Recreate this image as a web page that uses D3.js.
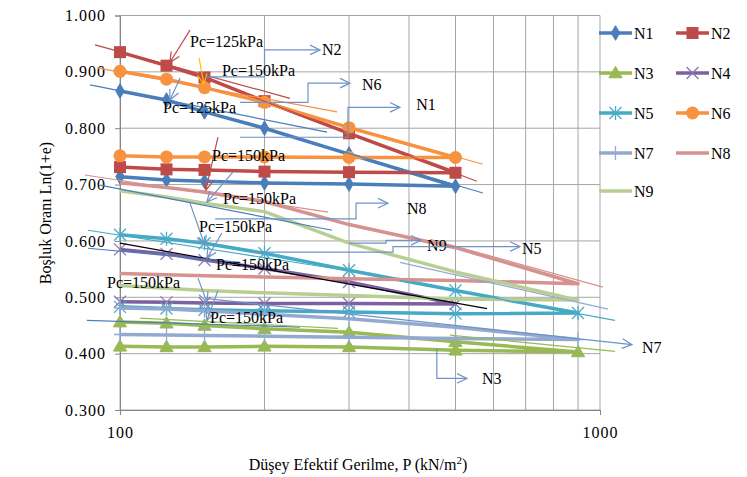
<!DOCTYPE html>
<html><head><meta charset="utf-8">
<script src="https://cdn.jsdelivr.net/npm/d3@7"></script>
<style>
body{margin:0;background:#fff}
svg{display:block}
text{font-family:"Liberation Serif","Times New Roman",serif;fill:#000}
</style>
</head><body>
<svg id="c" width="747" height="477"></svg>
<script>
// ---------- DATA ----------
const stressA = [100,125,150,200,300,500,300,200,150,125,100];
const stressB = [100,125,150,200,300,500,900,500,300,200,150,125,100];
const seriesNames = ["N1","N2","N3","N4","N5","N6","N7","N8","N9"];
const eN1 = [0.866,0.850,0.829,0.800,0.754,0.697,0.701,0.703,0.706,0.708,0.714];
const eN2 = [0.935,0.911,0.890,0.848,0.791,0.721,0.722,0.723,0.726,0.727,0.731];
const eN3 = [0.456,0.454,0.450,0.444,0.438,0.421,0.403,0.406,0.412,0.413,0.412,0.412,0.413];
const eN4 = [0.585,0.577,0.566,0.551,0.527,0.488,0.489,0.489,0.490,0.491,0.492];
const eN5 = [0.611,0.604,0.596,0.578,0.548,0.512,0.472,0.471,0.474,0.476,0.478,0.480,0.483];
const eN6 = [0.901,0.887,0.872,0.846,0.801,0.748,0.748,0.749,0.749,0.749,0.751];
const eN7 = [0.481,0.479,0.476,0.470,0.462,0.447,0.425,0.427,0.429,0.431,0.432,0.433,0.434];
const eN8 = [0.703,0.695,0.687,0.670,0.629,0.588,0.524,0.530,0.533,0.536,0.538,0.540,0.542];
const eN9 = [0.689,0.678,0.667,0.652,0.596,0.545,0.495,0.497,0.503,0.508,0.512,0.516,0.521];
const yTicks = [0.3,0.4,0.5,0.6,0.7,0.8,0.9,1.0];
const xGrid = [100,200,300,400,500,600,700,800,900,1000];
const xTickLabels = [100,1000];

// thin tangent lines [key, P1, e1, P2, e2]
const trendLines = [
 ["N2",88.7,0.948,226,0.853],["N2",177.8,0.864,554,0.706],
 ["N6",89.6,0.907,283.3,0.829],["N6",237.1,0.827,570.2,0.736],
 ["N1",86.6,0.877,270,0.793],["N1",237.1,0.781,570.2,0.685],
 ["N8",84.5,0.717,271.2,0.651],["N8",442.6,0.603,1014,0.518],
 ["N1",90.8,0.699,276.5,0.619],["N5",85.8,0.619,316.2,0.544],
 ["K",100,0.596,581.8,0.480],["N1",85.8,0.587,177.8,0.562],
 ["N1",85.3,0.459,237.1,0.447],["N3",110.1,0.463,284.6,0.445],
 ["N3",487,0.433,1074,0.404],["N5",383,0.530,1074,0.459],
 ["N7",383,0.562,1039,0.479]
];
// Pc pointer arrows [key, P1, e1, P2(tip), e2(tip)]
const pcArrows = [
 ["N2",139.9,0.974,127.1,0.917],["Y",146.1,0.925,149.6,0.878],
 ["A",133.4,0.889,127.1,0.850],["N2",160,0.784,151,0.690],
 ["A",171.9,0.722,151.7,0.669],["A",139.9,0.667,150.3,0.592],
 ["A",163.1,0.614,151.7,0.569],["A",145.4,0.534,151.7,0.491],
 ["A",160,0.512,151.7,0.459]
];
// Pc labels [text, P, e]
const pcLabels = [
 ["Pc=125kPa",139.9,0.954],["Pc=150kPa",163.1,0.903],["Pc=125kPa",122.9,0.837],
 ["Pc=150kPa",155.5,0.752],["Pc=150kPa",163.9,0.676],["Pc=150kPa",146.1,0.625],
 ["Pc=150kPa",158.5,0.558],["Pc=150kPa",94,0.527],["Pc=150kPa",154,0.464]
];
// series connectors
const connectors = [
 {label:"N2", path:[[150.3,0.891],[200,0.891],[200,0.939],[261,0.939]], at:[263.6,0.939]},
 {label:"N6", path:[[177.8,0.846],[246.4,0.846],[246.4,0.880],[301.4,0.880]], at:[319.2,0.877]},
 {label:"N1", path:[[177.8,0.784],[298.5,0.784],[298.5,0.837],[383,0.837]], at:[414,0.843]},
 {label:"N8", path:[[157.8,0.639],[310.3,0.639],[310.3,0.667],[361.6,0.667]], at:[396,0.658]},
 {label:"N9", path:[[300,0.596],[358.4,0.596],[358.4,0.601],[423.6,0.601]], at:[436.3,0.592]},
 {label:"N5", path:[[186.6,0.580],[370.5,0.580],[370.5,0.590],[681.3,0.590]], at:[688,0.587]},
 {label:"N3", path:[[457.2,0.409],[457.2,0.356],[528,0.356]], at:[567.6,0.356]},
 {label:"N7", path:[[150.3,0.498],[1166,0.416]], at:[1223,0.411]}
];

// ---------- STYLE ----------
const colors = {N1:"#4A7EBB",N2:"#BE4B48",N3:"#98B954",N4:"#7D60A0",N5:"#46AAC5",
  N6:"#F69240",N7:"#93A9D0",N8:"#D6928F",N9:"#B9CE93",K:"#000000",Y:"#FFC000",A:"#6F93C8"};
const markers = {N1:"diamond",N2:"square",N3:"triangle",N4:"x",N5:"star",N6:"circle",N7:"plus",N8:null,N9:null};
const seriesData = {
  N1:[stressA,eN1],N2:[stressA,eN2],N3:[stressB,eN3],N4:[stressA,eN4],N5:[stressB,eN5],
  N6:[stressA,eN6],N7:[stressB,eN7],N8:[stressB,eN8],N9:[stressB,eN9]
};

const svg = d3.select("#c");
const x = d3.scaleLog().domain([100,1000]).range([120,600]);
const y = d3.scaleLinear().domain([0.3,1.0]).range([410,15.5]);

// grid
const gridColor = "#A6A6A6";
svg.append("g").selectAll("line").data(yTicks).join("line")
  .attr("x1",x(100)).attr("x2",x(1000)).attr("y1",d=>y(d)).attr("y2",d=>y(d))
  .attr("stroke",gridColor).attr("stroke-width",1);
svg.append("g").selectAll("line").data(xGrid).join("line")
  .attr("x1",d=>x(d)).attr("x2",d=>x(d)).attr("y1",y(0.3)).attr("y2",y(1.0))
  .attr("stroke",gridColor).attr("stroke-width",1);

// y axis
const yAxis = svg.append("g").attr("transform",`translate(${x(100)},0)`)
  .call(d3.axisLeft(y).tickValues(yTicks).tickFormat(d3.format(".3f")).tickSize(5).tickPadding(9));
yAxis.select(".domain").attr("stroke","#868686");
yAxis.selectAll(".tick line").attr("stroke","#868686");
yAxis.selectAll("text").attr("font-size",16).attr("letter-spacing","1px")
  .attr("font-family","Liberation Serif, serif");

// x axis
const xAxis = svg.append("g").attr("transform",`translate(0,${y(0.3)})`)
  .call(d3.axisBottom(x).tickValues(xTickLabels).tickFormat(d3.format("d")).tickSize(5).tickPadding(12));
xAxis.select(".domain").attr("stroke","#868686");
xAxis.selectAll(".tick line").attr("stroke","#868686");
xAxis.selectAll("text").attr("font-size",16).attr("letter-spacing","1px")
  .attr("font-family","Liberation Serif, serif");

// titles
svg.append("text").attr("transform","translate(51,213) rotate(-90)")
  .attr("text-anchor","middle").attr("font-size",16).text("Boşluk Oranı Ln(1+e)");
const xt = svg.append("text").attr("x",358).attr("y",470).attr("text-anchor","middle").attr("font-size",16);
xt.append("tspan").text("Düşey Efektif Gerilme, P (kN/m");
xt.append("tspan").attr("font-size",11).attr("dy",-6).text("2");
xt.append("tspan").attr("dy",6).text(")");

// marker drawing
function drawMarker(g, type, cx, cy, col, scale){
  const s = scale||1;
  if(!type) return;
  if(type==="diamond") g.append("path").attr("d",d3.symbol(d3.symbolDiamond, 62*s)())
      .attr("transform",`translate(${cx},${cy})`).attr("fill",col).attr("stroke",col);
  else if(type==="square") g.append("rect").attr("x",cx-6*s).attr("y",cy-6*s)
      .attr("width",12*s).attr("height",12*s).attr("fill",col);
  else if(type==="triangle") g.append("path").attr("d",d3.symbol(d3.symbolTriangle, 75*s)())
      .attr("transform",`translate(${cx},${cy+1})`).attr("fill",col).attr("stroke",col);
  else if(type==="circle") g.append("circle").attr("cx",cx).attr("cy",cy).attr("r",6.5*s).attr("fill",col);
  else if(type==="x"||type==="star"||type==="plus"){
    const r = 6*s;
    const p = d3.path();
    if(type!=="plus"){ p.moveTo(cx-r,cy-r); p.lineTo(cx+r,cy+r); p.moveTo(cx-r,cy+r); p.lineTo(cx+r,cy-r); }
    if(type!=="x"){ p.moveTo(cx,cy-r-1); p.lineTo(cx,cy+r+1); }
    if(type==="plus"){ p.moveTo(cx-r,cy); p.lineTo(cx+r,cy); }
    g.append("path").attr("d",p.toString()).attr("stroke",col).attr("stroke-width",1.3).attr("fill","none");
  }
}

// series
const line = d3.line().x(d=>x(d[0])).y(d=>y(d[1]));
const seriesG = svg.append("g");
seriesNames.forEach(n=>{
  const [ps, es] = seriesData[n];
  const pts = ps.map((p,i)=>[p,es[i]]);
  const g = seriesG.append("g");
  g.append("path").attr("d",line(pts)).attr("fill","none").attr("stroke",colors[n])
    .attr("stroke-width",3.5).attr("stroke-linejoin","round");
  const mcol = n==="N4" ? "#8A77B0" : (n==="N5" ? "#4BACC6" : colors[n]);
  pts.forEach(d=>drawMarker(g, markers[n], x(d[0]), y(d[1]), mcol));
});

// thin trend lines
svg.append("g").selectAll("line").data(trendLines).join("line")
  .attr("x1",d=>x(d[1])).attr("y1",d=>y(d[2])).attr("x2",d=>x(d[3])).attr("y2",d=>y(d[4]))
  .attr("stroke",d=>colors[d[0]]).attr("stroke-width",1.2);

// arrow helper
function arrowHead(g, x1,y1,x2,y2,col){
  const a = Math.atan2(y2-y1,x2-x1), L=11, w=0.45;
  const p = d3.path();
  p.moveTo(x2-L*Math.cos(a-w), y2-L*Math.sin(a-w));
  p.lineTo(x2,y2);
  p.lineTo(x2-L*Math.cos(a+w), y2-L*Math.sin(a+w));
  g.append("path").attr("d",p.toString()).attr("fill","none").attr("stroke",col).attr("stroke-width",1.2);
}

// Pc arrows
const arrG = svg.append("g");
pcArrows.forEach(d=>{
  const x1=x(d[1]),y1=y(d[2]),x2=x(d[3]),y2=y(d[4]);
  arrG.append("line").attr("x1",x1).attr("y1",y1).attr("x2",x2).attr("y2",y2)
    .attr("stroke",colors[d[0]]).attr("stroke-width",1.2);
  arrowHead(arrG,x1,y1,x2,y2,colors[d[0]]);
});

// connectors
const conG = svg.append("g");
const connColor = "#6F93C8";
connectors.forEach(c=>{
  const pts = c.path.map(p=>[x(p[0]),y(p[1])]);
  conG.append("path").attr("d",d3.line()(pts)).attr("fill","none").attr("stroke",connColor).attr("stroke-width",1.2);
  const a=pts[pts.length-2], b=pts[pts.length-1];
  arrowHead(conG,a[0],a[1],b[0],b[1],connColor);
  conG.append("text").attr("x",x(c.at[0])).attr("y",y(c.at[1])).attr("dy","0.35em")
    .attr("font-size",16).text(c.label);
});

// Pc labels
svg.append("g").selectAll("text").data(pcLabels).join("text")
  .attr("x",d=>x(d[1])).attr("y",d=>y(d[2])).attr("dy","0.35em")
  .attr("font-size",16).text(d=>d[0]);

// legend
const legG = svg.append("g");
seriesNames.forEach((n,i)=>{
  const col = i%2, row = Math.floor(i/2);
  const lx = col===0 ? 599 : 676;
  const ly = [33,73,113,153,191][row];
  legG.append("line").attr("x1",lx).attr("x2",lx+33).attr("y1",ly).attr("y2",ly)
    .attr("stroke",colors[n]).attr("stroke-width",3.5);
  const mcol = n==="N4" ? "#8A77B0" : (n==="N5" ? "#4BACC6" : colors[n]);
  drawMarker(legG, markers[n], lx+16.5, ly, mcol);
  legG.append("text").attr("x",lx+35).attr("y",ly).attr("dy","0.35em").attr("font-size",16).text(n);
});
</script>
</body></html>
